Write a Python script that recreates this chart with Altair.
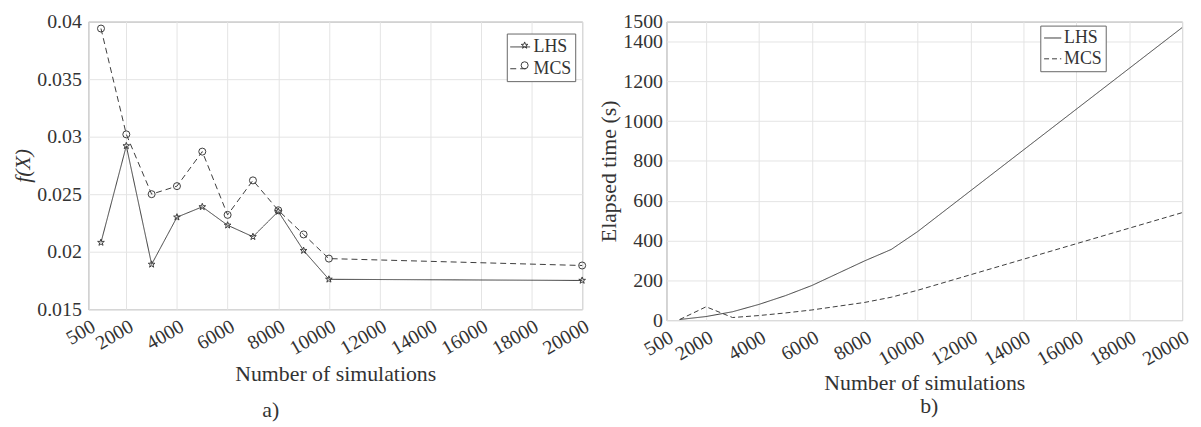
import altair as alt
import pandas as pd

# ---------------- data ----------------
N = [1000, 2000, 3000, 4000, 5000, 6000, 7000, 8000, 9000, 10000, 20000]
lhs_fx = [0.0208, 0.0292, 0.0189, 0.0230, 0.0239, 0.0223, 0.0213, 0.0235, 0.0201, 0.0176, 0.0175]
mcs_fx = [0.0394, 0.0302, 0.0250, 0.0257, 0.0287, 0.0232, 0.0262, 0.0236, 0.0215, 0.0194, 0.0188]
lhs_time = [3, 18, 42, 79, 123, 174, 236, 298, 355, 445, 1470]
mcs_time = [3, 67, 13, 23, 36, 51, 70, 89, 115, 150, 540]
series = ["LHS", "MCS"]
x_ticks = [500, 2000, 4000, 6000, 8000, 10000, 12000, 14000, 16000, 18000, 20000]
fx_ticks = [0.015, 0.02, 0.025, 0.03, 0.035, 0.04]
time_ticks = [0, 200, 400, 600, 800, 1000, 1200, 1400, 1500]
x_title = "Number of simulations"
caption_a = "a)"
caption_b = "b)"

labels = [series[0]] * len(N) + [series[1]] * len(N)
df_a = pd.DataFrame({"N": N + N, "value": lhs_fx + mcs_fx, "series": labels, "marker": labels})
df_b = pd.DataFrame({"N": N + N, "value": lhs_time + mcs_time, "method": labels})

# ---------------- style ----------------
FONT = "Liberation Serif"
INK = "#333333"
LINE = "#3c3c3c"
STAR = ("M0,-1L0.235,-0.324L0.951,-0.309L0.38,0.124L0.588,0.809L0,0.4"
        "L-0.588,0.809L-0.38,0.124L-0.951,-0.309L-0.235,-0.324Z")
TICK_FS = 20
TITLE_FS = 22
LEG_FS = 18

LEG_X_A, LEG_Y_A = 422, 12


def x_enc(title_pad):
    return alt.X(
        "N:Q",
        scale=alt.Scale(domain=[500, 20000], nice=False, zero=False),
        axis=alt.Axis(values=x_ticks, format="d", labelAngle=-30, labelAlign="right",
                      labelBaseline="top", labelPadding=7, labelOverlap=False,
                      labelFont=FONT, labelFontSize=TICK_FS,
                      title=x_title, titleFont=FONT, titleFontSize=TITLE_FS,
                      titlePadding=title_pad),
    )


# ---------------- panel a ----------------
base_a = alt.Chart(df_a)
ya = alt.Y("value:Q", scale=alt.Scale(domain=[0.015, 0.04], nice=False, zero=False),
           axis=alt.Axis(values=fx_ticks, format=".3~f", labelFont=FONT, labelFontSize=TICK_FS,
                         labelPadding=7, title="f(X)", titleFont=FONT, titleFontSize=TITLE_FS,
                         titleFontStyle="italic", titlePadding=2))
xa = x_enc(6)

line_a = base_a.mark_line(color=LINE, strokeWidth=1).encode(
    x=xa, y=ya,
    strokeDash=alt.StrokeDash(
        "series:N", scale=alt.Scale(range=[[1, 0], [6, 4]]),
        legend=alt.Legend(
            title=None, orient="none", legendX=LEG_X_A, legendY=LEG_Y_A, zindex=1,
            fillColor="white", strokeColor="#666666", padding=3, rowPadding=2,
            labelFont=FONT, labelFontSize=LEG_FS, labelColor=INK, labelOffset=3,
            symbolType="stroke", symbolSize=400, symbolStrokeColor=LINE,
            symbolStrokeWidth=1,
        ),
    ),
)
# second legend (markers only) laid exactly over the line legend
pts_a = base_a.mark_point(filled=False, color=LINE, size=50, strokeWidth=1, opacity=1).encode(
    x=xa, y=ya,
    shape=alt.Shape(
        "marker:N",
        scale=alt.Scale(range=[STAR, "circle"]),
        legend=alt.Legend(
            title=None, orient="none", legendX=LEG_X_A, legendY=LEG_Y_A, zindex=2,
            padding=3, rowPadding=2, labelExpr="' '",
            labelFont=FONT, labelFontSize=LEG_FS, labelOpacity=0, labelOffset=3,
            symbolSize=50, symbolOffset=6, symbolStrokeColor=LINE, symbolStrokeWidth=1,
            symbolFillColor="white",
        ),
    ),
)
panel_a = alt.layer(line_a, pts_a).properties(
    width=498, height=290,
    title=alt.TitleParams(caption_a, orient="bottom", anchor="middle", dx=-65, offset=15,
                          font=FONT, fontSize=TITLE_FS, fontWeight="normal", color=INK),
)

# ---------------- panel b ----------------
base_b = alt.Chart(df_b)
yb = alt.Y("value:Q", scale=alt.Scale(domain=[0, 1500], nice=False),
           axis=alt.Axis(values=time_ticks, format="d", labelFont=FONT, labelFontSize=TICK_FS,
                         labelPadding=4, title="Elapsed time (s)", titleFont=FONT,
                         titleFontSize=TITLE_FS, titlePadding=2))
xb = x_enc(4)
panel_b = base_b.mark_line(color=LINE, strokeWidth=1).encode(
    x=xb, y=yb,
    strokeDash=alt.StrokeDash(
        "method:N", scale=alt.Scale(range=[[1, 0], [5, 3]]),
        legend=alt.Legend(
            title=None, orient="none", legendX=377, legendY=4,
            fillColor="white", strokeColor="#666666", padding=3, rowPadding=2,
            labelFont=FONT, labelFontSize=LEG_FS, labelColor=INK, labelOffset=2,
            symbolType="stroke", symbolSize=300, symbolStrokeColor=LINE,
            symbolStrokeWidth=1,
        ),
    ),
).properties(
    width=520, height=301,
    title=alt.TitleParams(caption_b, orient="bottom", anchor="middle", dx=5, offset=2,
                          font=FONT, fontSize=TITLE_FS, fontWeight="normal", color=INK),
)

chart = alt.hconcat(panel_a, panel_b, spacing=4).resolve_scale(
    strokeDash="independent", shape="independent"
).resolve_legend(
    strokeDash="independent", shape="independent"
).properties(
    padding={"left": 3, "top": 1, "right": 0, "bottom": 0}
).configure(
    font=FONT
).configure_view(
    stroke="#8a8a8a", strokeWidth=1
).configure_axis(
    grid=True, gridColor="#e4e4e4", gridWidth=1, domain=False, ticks=False,
    labelFont=FONT, labelColor=INK,
    titleFont=FONT, titleColor=INK, titleFontWeight="normal",
).configure_legend(
    labelFont=FONT
).configure_title(font=FONT, color=INK)

chart.save("out.html", embed_options={"renderer": "svg", "actions": False})
